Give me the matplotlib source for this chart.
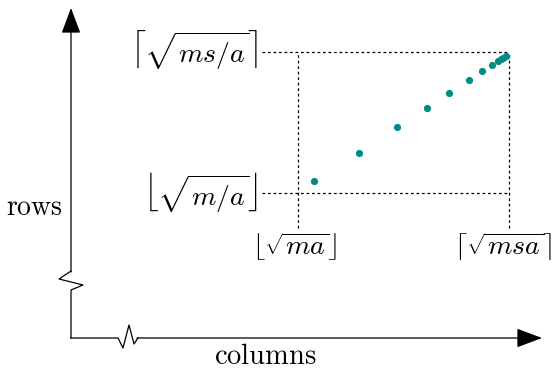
import numpy as np
import matplotlib.pyplot as plt

plt.rcParams['mathtext.fontset'] = 'cm'

# sample points (columns, rows), in axis units with origin at the axes corner
cols = [243, 288, 326, 356, 378, 398, 411, 421, 427, 430, 432, 435]
rows = [157, 185, 211, 230, 245, 258, 267, 273, 277, 279, 280.5, 282]

# bounds of the region
col_lo, col_hi = 227, 438
row_lo, row_hi = 145, 286

row_labels = [r'$\left\lfloor\sqrt{m/a}\right\rfloor$', r'$\left\lceil\sqrt{ms/a}\right\rceil$']
col_labels = [r'$\lfloor\sqrt{ma}\rfloor$', r'$\lceil\sqrt{msa}\rceil$']

fig = plt.figure(figsize=(5.52, 3.69), dpi=100)
ax = fig.add_axes([0, 0, 1, 1])
ax.set_xlim(-71, 481)
ax.set_ylim(-31, 338)
ax.axis('off')

lw = 0.9
# vertical axis with break
ax.plot([0, 0, 12, -12, 0], [0, 48, 53, 59, 67], color='black', lw=lw)
ax.annotate('', xy=(0, 330), xytext=(0, 66),
            arrowprops=dict(arrowstyle='-|>,head_length=0.8,head_width=0.3',
                            mutation_scale=20, color='black', lw=lw,
                            shrinkA=0, shrinkB=0))
# horizontal axis with break
ax.plot([0, 47, 52, 58, 63, 67], [0, 0, -10, 13, -6, 0], color='black', lw=lw)
ax.annotate('', xy=(471, 0), xytext=(66, 0),
            arrowprops=dict(arrowstyle='-|>,head_length=0.8,head_width=0.3',
                            mutation_scale=20, color='black', lw=lw,
                            shrinkA=0, shrinkB=0))

# dotted guide box
dash = dict(color='black', lw=0.9, ls=(0, (2.2, 2.2)))
for r in (row_lo, row_hi):
    ax.plot([191, col_hi], [r, r], **dash)
for c in (col_lo, col_hi):
    ax.plot([c, c], [110, row_hi], **dash)

ax.scatter(cols, rows, s=27, color='#008b8b', zorder=3, linewidths=0)

fs = 20
ax.text(187, row_hi + 2, row_labels[1], ha='right', va='center', fontsize=fs)
ax.text(187, row_lo, row_labels[0], ha='right', va='center', fontsize=fs)
ax.text(col_lo - 3, 91, col_labels[0], ha='center', va='center', fontsize=fs)
ax.text(col_hi - 6, 91, col_labels[1], ha='center', va='center', fontsize=fs)

ax.text(-8, 131, r'$\mathrm{rows}$', ha='right', va='center', fontsize=fs)
ax.text(194, -18, r'$\mathrm{columns}$', ha='center', va='center', fontsize=20.5)

fig.savefig('out.png', dpi=100)
